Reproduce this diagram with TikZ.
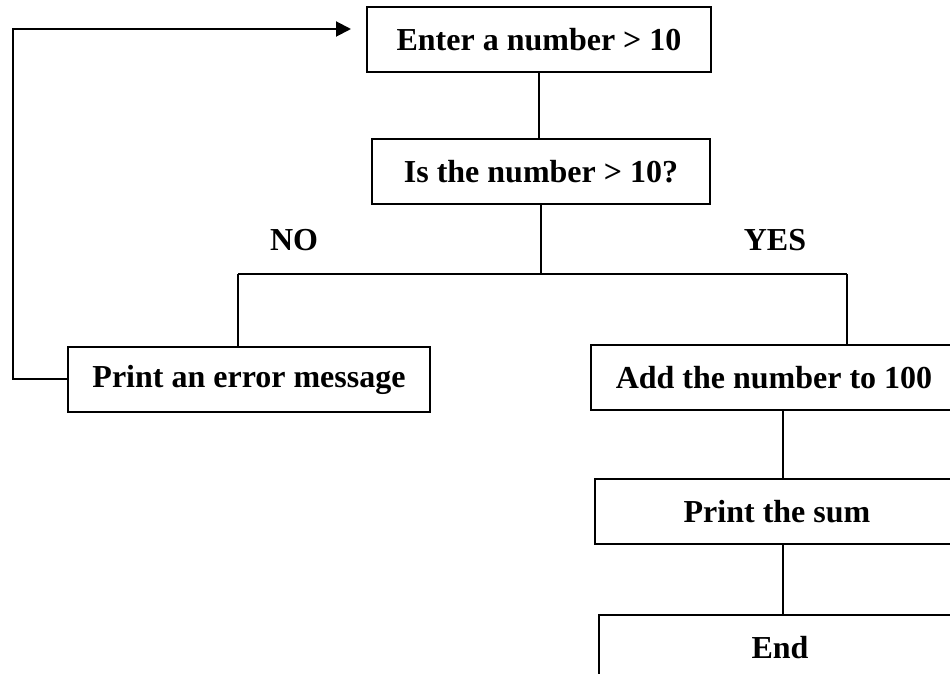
\documentclass[tikz,border=0pt]{standalone}
\usepackage{fontspec}
\setmainfont{Liberation Serif}
\usetikzlibrary{arrows.meta}
\tikzset{
    flow-box/.style = {draw=black, line width=1pt, rectangle, inner sep=0pt, minimum height=32.5pt, font=\bfseries\fontsize{16}{19}\selectfont},
    branch-label/.style = {font=\bfseries\fontsize{16}{19}\selectfont},
    flow-line/.style = {draw=black, line width=1pt},
}

\begin{document}
\begin{tikzpicture}[x=0.5pt, y=-0.5pt]
\useasboundingbox (0,0) rectangle (950,674);
\clip (0,0) rectangle (950,674);
\node [flow-box, minimum width=172pt] (enter) at (539,39.5) {Enter a number > 10};
\node [flow-box, minimum width=169pt] (test) at (541,172) {Is the number > 10?};
\node [flow-box, minimum width=181pt] (error) at (249,379.5) {Print an error message};
\node [flow-box, minimum width=183pt] (add) at (774,377.5) {Add the number to 100};
\node [flow-box, minimum width=182pt] (sum) at (777,511.5) {Print the sum};
\node [flow-box, minimum width=181pt] (end) at (780,647.5) {End};
\node [branch-label] (no) at (294,240) {NO};
\node [branch-label] (yes) at (775,240) {YES};
\coordinate (split) at (541,274);
\coordinate (no-end) at (238,274);
\coordinate (yes-end) at (847,274);
\coordinate (sum-axis) at (783,0);
\coordinate (loop-top) at (13,29);
\draw [flow-line] (enter.south) -- (enter.south |- test.north);
\draw [flow-line] (test.south) -- (split);
\draw [flow-line] (no-end) -- (yes-end);
\draw [flow-line] (no-end) -- (no-end |- error.north);
\draw [flow-line] (yes-end) -- (yes-end |- add.north);
\draw [flow-line] (add.south -| sum-axis) -- (sum.north -| sum-axis);
\draw [flow-line] (sum.south -| sum-axis) -- (end.north -| sum-axis);
\draw [flow-line, -{Triangle[length=7.5pt, width=7.5pt]}, shorten >=7.5pt] (error.west) -| (loop-top) -- (loop-top -| enter.west);
\end{tikzpicture}
\end{document}
